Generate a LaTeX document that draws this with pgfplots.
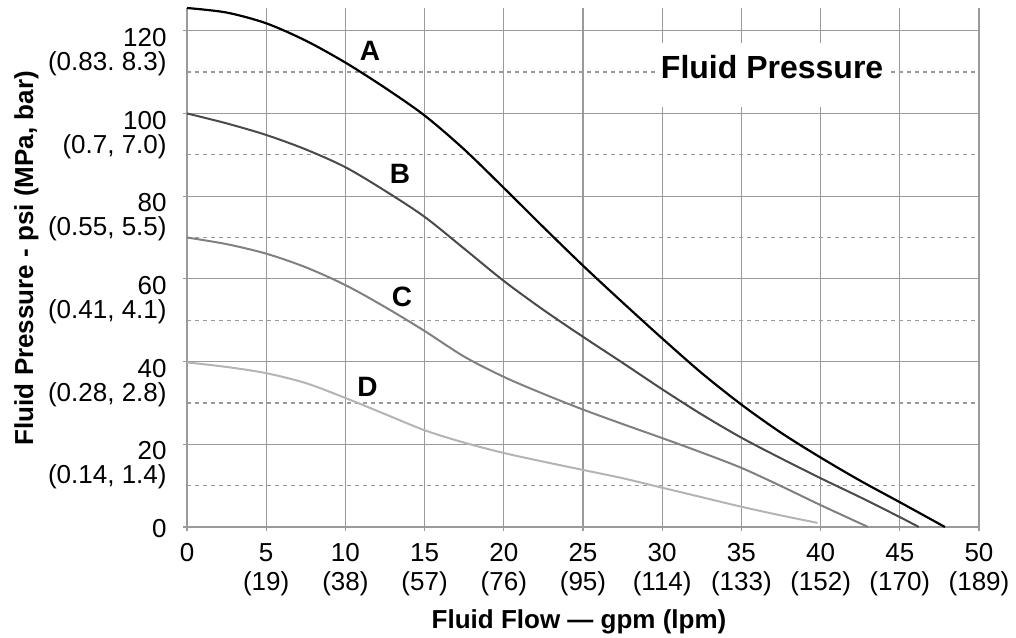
\documentclass[border=0pt]{standalone}
\usepackage{pgfplots}
\pgfplotsset{compat=1.18}
\usepackage{fontspec}
\setmainfont{Liberation Sans}
\frenchspacing
\definecolor{gridgray}{HTML}{9A9A9A}
\definecolor{cB}{HTML}{4A4A4A}
\definecolor{cC}{HTML}{808080}
\definecolor{cD}{HTML}{B4B4B4}
\begin{document}
\begin{tikzpicture}
\useasboundingbox (-93.5pt,-55pt) rectangle (414.5pt,263.5pt);
\begin{axis}[
  scale only axis, width=396pt, height=259.5pt,
  xmin=0, xmax=50, ymin=0, ymax=125.5,
  axis x line=bottom, axis y line=left,
  axis line style={draw=gridgray, line width=0.6pt, -},
  xtick={0,5,...,50}, ytick={0,20,...,120},
  minor ytick={10,30,...,110},
  xmajorgrids, ymajorgrids, yminorgrids,
  major grid style={draw=gridgray, line width=0.6pt},
  minor grid style={draw=gridgray, line width=0.6pt, dash pattern=on 2pt off 2pt},
  minor tick length=0pt,
  major tick length=4pt, tick align=center,
  tick style={draw=gridgray, line width=0.6pt},
  xticklabels={0,{5\\(19)},{10\\(38)},{15\\(57)},{20\\(76)},{25\\(95)},{30\\(114)},{35\\(133)},{40\\(152)},{45\\(170)},{50\\(189)}},
  xticklabel style={align=center, font=\fontsize{13}{14.5}\selectfont, anchor=north, inner sep=0pt, yshift=-6pt},
  yticklabels={{\raisebox{-6.15pt}[0pt][0pt]{0}},{20\\(0.14, 1.4)},{40\\(0.28, 2.8)},{60\\(0.41, 4.1)},{80\\(0.55, 5.5)},{100\\(0.7, 7.0)},{120\\(0.83. 8.3)}},
  yticklabel style={align=right, font=\fontsize{13}{12}\selectfont, anchor=north east, inner sep=0pt, yshift=1.5pt, xshift=-8pt},
  xlabel={Fluid Flow — gpm (lpm)},
  xlabel style={at={(axis description cs:0.495,-0.1946)}, anchor=base, font=\fontsize{13}{13}\selectfont\bfseries, inner sep=0pt},
  ylabel={Fluid Pressure - psi (MPa, bar)},
  ylabel style={at={(axis description cs:-0.1944,0.518)}, anchor=base, font=\fontsize{13}{13}\selectfont\bfseries, inner sep=0pt},
]
\addplot[black, line width=1.1pt, smooth] coordinates {
(0,125.5)(2.5,124.4)(5,121.8)(7.5,117.6)(10,112.3)(12.5,106.2)(15,99.5)(17.5,91.3)(20,82)(22.5,72.5)(25,63.2)(27.5,54.3)(30,45.6)(32.5,37.2)(35,29.6)(37.5,22.8)(40,16.8)(42.5,11.2)(45,6)(47.85,0)};
\addplot[cB, line width=1pt, smooth] coordinates {
(0,100)(2.5,97.6)(5,94.8)(7.5,91.3)(10,87)(12.5,81.3)(15,75)(17.5,67.3)(20,59.5)(22.5,52.5)(25,46)(27.5,39.7)(30,33.3)(32.5,27.2)(35,21.6)(37.5,16.6)(40,11.8)(42.5,7.2)(45,2.4)(46.2,0)};
\addplot[cC, line width=1pt, smooth] coordinates {
(0,70)(2.5,68.4)(5,66.1)(7.5,62.8)(10,58.5)(12.5,53.2)(15,47.4)(17.5,41.2)(20,36.3)(22.5,32.2)(25,28.4)(27.5,24.9)(30,21.5)(32.5,18)(35,14.3)(37.5,9.9)(40,5.3)(43,0)};
\addplot[cD, line width=1pt, smooth] coordinates {
(0,39.8)(2.5,38.7)(5,37.2)(7.5,34.8)(10,31.2)(12.5,27.3)(15,23.4)(17.5,20.4)(20,17.9)(22.5,15.8)(25,13.8)(27.5,11.8)(30,9.5)(32.5,7.2)(35,4.9)(37.5,2.8)(39.8,1)};
\node[font=\fontsize{14}{14}\selectfont\bfseries, inner sep=0pt] at (axis cs:11.55,115.2) {A};
\node[font=\fontsize{14}{14}\selectfont\bfseries, inner sep=0pt] at (axis cs:13.45,85.4) {B};
\node[font=\fontsize{14}{14}\selectfont\bfseries, inner sep=0pt] at (axis cs:13.57,55.7) {C};
\node[font=\fontsize{14}{14}\selectfont\bfseries, inner sep=0pt] at (axis cs:11.4,34) {D};
\node[fill=white, minimum width=116.5pt, minimum height=32pt, inner sep=0pt] at (axis cs:37.03,109.2) {};
\node[anchor=base, font=\fontsize{16}{16}\selectfont\bfseries, inner sep=0pt] at (axis cs:36.94,108.5) {Fluid Pressure};
\end{axis}
\end{tikzpicture}
\end{document}
